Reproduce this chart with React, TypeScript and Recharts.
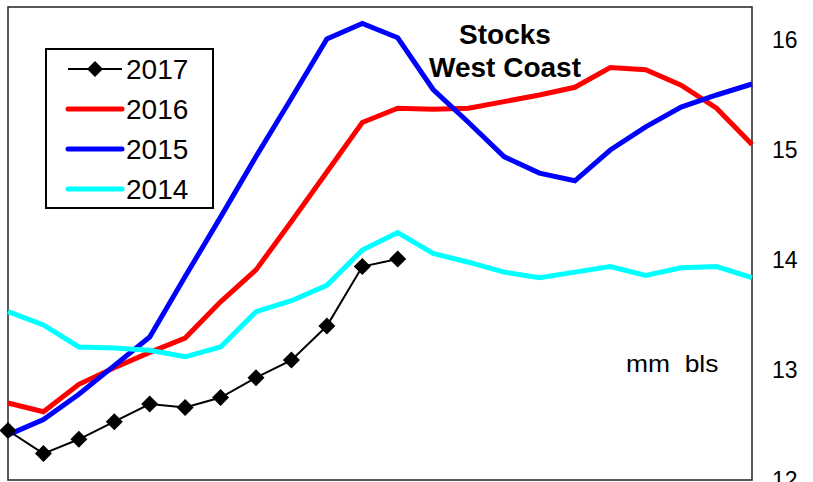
import { LineChart, Line, XAxis, YAxis, ReferenceArea, Legend } from 'recharts';

const weeks = ['1', '2', '3', '4', '5', '6', '7', '8', '9', '10', '11', '12', '13', '14', '15', '16', '17', '18', '19', '20', '21', '22'];
const y2017 = [12.45, 12.24, 12.37, 12.53, 12.69, 12.66, 12.75, 12.93, 13.09, 13.4, 13.94, 14.01];
const y2016 = [12.7, 12.62, 12.87, 13.02, 13.16, 13.29, 13.62, 13.91, 14.35, 14.8, 15.25, 15.38, 15.37, 15.38, 15.44, 15.5, 15.57, 15.75, 15.73, 15.59, 15.38, 15.05];
const y2015 = [12.41, 12.55, 12.78, 13.04, 13.3, 13.85, 14.39, 14.94, 15.47, 16.01, 16.15, 16.02, 15.55, 15.25, 14.94, 14.79, 14.72, 15.0, 15.21, 15.39, 15.5, 15.6];
const y2014 = [13.53, 13.41, 13.21, 13.2, 13.18, 13.12, 13.21, 13.53, 13.63, 13.77, 14.09, 14.25, 14.06, 13.98, 13.89, 13.84, 13.89, 13.94, 13.86, 13.93, 13.94, 13.84];
const yTicks = [12, 13, 14, 15, 16];

const series = [
  { key: 's2017', name: '2017', color: '#000000', width: 2, marker: true },
  { key: 's2016', name: '2016', color: '#ff0000', width: 5, marker: false },
  { key: 's2015', name: '2015', color: '#0000ff', width: 5, marker: false },
  { key: 's2014', name: '2014', color: '#00ffff', width: 5, marker: false },
];

const data = weeks.map((w, i) => ({
  wk: w,
  s2017: i < y2017.length ? y2017[i] : null,
  s2016: y2016[i],
  s2015: y2015[i],
  s2014: y2014[i],
}));

const FONT = '"Liberation Sans", Arial, sans-serif';

const Diamond = (props: any) => {
  const { cx, cy, index } = props;
  if (cx == null || cy == null) return <g key={'d' + index} />;
  const r = 8.5;
  return (
    <polygon
      key={'d' + index}
      points={`${cx},${cy - r} ${cx + r},${cy} ${cx},${cy + r} ${cx - r},${cy}`}
      fill="#000"
    />
  );
};

const LegendBox = () => (
  <svg width={169} height={161} style={{ display: 'block' }}>
    <rect x={1} y={1} width={167} height={159} fill="#fff" stroke="#000" strokeWidth={2} />
    {series.map((s, i) => {
      const cy = 21 + i * 40;
      return (
        <g key={s.key}>
          <line x1={23} x2={77} y1={cy} y2={cy} stroke={s.color} strokeWidth={s.marker ? 2 : 5} strokeLinecap={s.marker ? 'butt' : 'round'} />
          {s.marker && <polygon points={`50,${cy - 8} 58,${cy} 50,${cy + 8} 42,${cy}`} fill="#000" />}
          <text x={81} y={cy + 10} fontSize={28} fontFamily={FONT} fill="#000">{s.name}</text>
        </g>
      );
    })}
  </svg>
);

export default function App() {
  const order = ['s2016', 's2015', 's2014', 's2017'];
  return (
    <div style={{ position: 'absolute', left: 0, top: 0, width: 813, height: 482, background: '#fff', fontFamily: FONT }}>
      <LineChart width={813} height={482} data={data} margin={{ top: 7, right: 0, bottom: 2, left: 8 }}>
        <XAxis dataKey="wk" hide padding={{ left: 0, right: 0 }} />
        <YAxis
          orientation="right"
          width={61}
          domain={[12, 16.3]}
          ticks={yTicks}
          interval={0}
          axisLine={false}
          tickLine={false}
          tickSize={6}
          tickMargin={14}
          tick={{ fill: '#000', fontSize: 23, fontFamily: FONT }}
        />
        <ReferenceArea x1="1" x2="22" y1={12} y2={16.3} fill="none" stroke="#222" strokeWidth={1.5} ifOverflow="visible" />
        <Legend
          layout="vertical"
          align="center"
          verticalAlign="middle"
          content={<LegendBox />}
          wrapperStyle={{ left: 45, top: 48, width: 169, height: 161 }}
        />
        {order.map((k) => {
          const s = series.find((x) => x.key === k)!;
          return (
            <Line
              key={s.key}
              type="linear"
              dataKey={s.key}
              name={s.name}
              stroke={s.color}
              strokeWidth={s.width}
              dot={s.marker ? Diamond : false}
              activeDot={false}
              connectNulls={false}
              isAnimationActive={false}
            />
          );
        })}
      </LineChart>
      <div style={{ position: 'absolute', left: 405, width: 200, top: 18, textAlign: 'center', fontWeight: 'bold', fontSize: 28, lineHeight: '33px', color: '#000' }}>
        <div>Stocks</div>
        <div>West Coast</div>
      </div>
      <div style={{ position: 'absolute', left: 626, top: 350, fontSize: 24, lineHeight: '28px', color: '#000', whiteSpace: 'pre', transform: 'scaleX(1.1)', transformOrigin: 'left center' }}>
        {'mm  bls'}
      </div>
    </div>
  );
}
